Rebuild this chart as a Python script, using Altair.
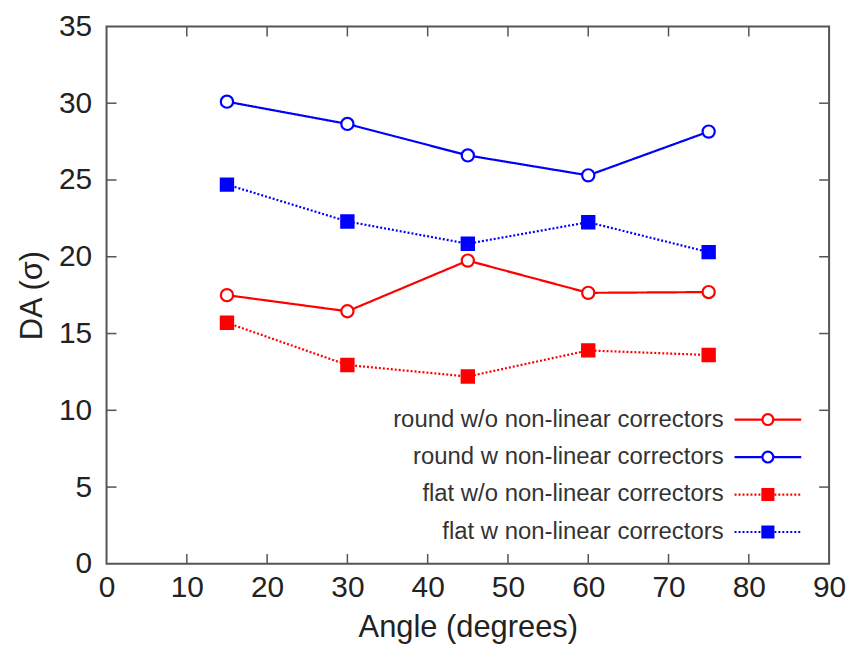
import altair as alt
import pandas as pd

angles = [15, 30, 45, 60, 75]
series_names = [
    "round w/o non-linear correctors",
    "round w non-linear correctors",
    "flat w/o non-linear correctors",
    "flat w non-linear correctors",
]
round_wo = [17.5, 16.45, 19.75, 17.65, 17.7]
round_w = [30.1, 28.65, 26.6, 25.3, 28.15]
flat_wo = [15.7, 12.95, 12.2, 13.9, 13.6]
flat_w = [24.7, 22.3, 20.85, 22.25, 20.3]
series_values = [round_wo, round_w, flat_wo, flat_w]

x_ticks = [0, 10, 20, 30, 40, 50, 60, 70, 80, 90]
y_ticks = [0, 5, 10, 15, 20, 25, 30, 35]

colors = ["#ff0000", "#0000ff", "#ff0000", "#0000ff"]
fills = ["white", "white", "#ff0000", "#0000ff"]
shapes = ["circle", "circle", "square", "square"]
dashes = [[1, 0], [1, 0], [2, 2], [2, 2]]

rows = []
for name, vals in zip(series_names, series_values):
    for a, v in zip(angles, vals):
        rows.append({"angle": a, "DA": v, "series": name, "marker": name})
df = pd.DataFrame(rows)
legend_df = pd.DataFrame({"series": series_names, "marker": series_names})

W, H = 726, 540
FONT = "Liberation Sans"

xscale = alt.Scale(domain=[0, 90], nice=False)
yscale = alt.Scale(domain=[0, 35], nice=False)
color_scale = alt.Scale(domain=series_names, range=colors)
dash_scale = alt.Scale(domain=series_names, range=dashes)
stroke_scale = alt.Scale(domain=series_names, range=colors)
fill_scale = alt.Scale(domain=series_names, range=fills)
shape_scale = alt.Scale(domain=series_names, range=shapes)
size_scale = alt.Scale(domain=series_names, range=[150, 150, 200, 200])
legend_y = alt.Scale(type="point", domain=series_names, range=[395, 508], padding=0)

base = alt.Chart(df)

lines = base.mark_line(strokeWidth=2.2).encode(
    x=alt.X("angle:Q", scale=xscale,
            axis=alt.Axis(values=x_ticks, title="Angle (degrees)", ticks=False, grid=False,
                          labelPadding=9, labelFlush=False, domain=False)),
    y=alt.Y("DA:Q", scale=yscale,
            axis=alt.Axis(values=y_ticks, title="DA (σ)", ticks=False, grid=False,
                          labelPadding=15, labelFlush=False, domain=False)),
    color=alt.Color("series:N", scale=color_scale, legend=None),
    strokeDash=alt.StrokeDash("series:N", scale=dash_scale, legend=None),
    detail="series:N",
)

points = base.mark_point(strokeWidth=2.2, opacity=1).encode(
    x=alt.X("angle:Q", scale=xscale),
    y=alt.Y("DA:Q", scale=yscale, axis=None),
    stroke=alt.Stroke("marker:N", scale=stroke_scale, legend=None),
    fill=alt.Fill("marker:N", scale=fill_scale, legend=None),
    shape=alt.Shape("marker:N", scale=shape_scale, legend=None),
    size=alt.Size("marker:N", scale=size_scale, legend=None),
)

# legend (inside plot, labels to the left of the samples)
leg_base = alt.Chart(legend_df)
leg_text = leg_base.mark_text(align="right", baseline="middle", font=FONT, fontSize=24,
                              color="#333333").encode(
    text="series:N",
    x=alt.value(620),
    y=alt.Y("series:N", scale=legend_y, axis=None),
)
leg_line = leg_base.mark_rule(strokeWidth=2.2).encode(
    x=alt.value(631), x2=alt.value(698),
    y=alt.Y("series:N", scale=legend_y, axis=None),
    color=alt.Color("series:N", scale=color_scale, legend=None),
    strokeDash=alt.StrokeDash("series:N", scale=dash_scale, legend=None),
)
leg_point = leg_base.mark_point(strokeWidth=2.2, opacity=1).encode(
    x=alt.value(664.5),
    y=alt.Y("series:N", scale=legend_y, axis=None),
    stroke=alt.Stroke("marker:N", scale=stroke_scale, legend=None),
    fill=alt.Fill("marker:N", scale=fill_scale, legend=None),
    shape=alt.Shape("marker:N", scale=shape_scale, legend=None),
    size=alt.Size("marker:N", scale=alt.Scale(domain=series_names, range=[120, 120, 150, 150]), legend=None),
)

inner_x = pd.DataFrame({"t": x_ticks[1:-1]})
inner_y = pd.DataFrame({"t": y_ticks[1:-1]})
tick_color = "#555555"

xt_bottom = alt.Chart(inner_x).mark_rule(color=tick_color, strokeWidth=1.5).encode(
    x=alt.X("t:Q", scale=xscale), y=alt.value(H), y2=alt.value(H - 10))
xt_top = alt.Chart(inner_x).mark_rule(color=tick_color, strokeWidth=1.5).encode(
    x=alt.X("t:Q", scale=xscale), y=alt.value(0), y2=alt.value(10))
yt_left = alt.Chart(inner_y).mark_rule(color=tick_color, strokeWidth=1.5).encode(
    y=alt.Y("t:Q", scale=yscale, axis=None), x=alt.value(0), x2=alt.value(10))
yt_right = alt.Chart(inner_y).mark_rule(color=tick_color, strokeWidth=1.5).encode(
    y=alt.Y("t:Q", scale=yscale, axis=None), x=alt.value(W), x2=alt.value(W - 10))

chart = alt.layer(
    xt_bottom, xt_top, yt_left, yt_right, lines, points, leg_line, leg_point, leg_text
).resolve_scale(
    y="independent", size="independent"
).properties(
    width=W,
    height=H,
    autosize=alt.AutoSizeParams(type="none"),
    padding={"left": 99, "top": 17, "right": 20, "bottom": 79},
).configure_view(
    stroke="#555555", strokeWidth=2
).configure_axis(
    labelFont=FONT, labelFontSize=30, labelColor="#222222",
    titleFont=FONT, titleFontSize=31, titleColor="#222222", titleFontWeight="normal",
).configure_axisX(titlePadding=10).configure_axisY(titlePadding=10)

chart.save("out.html", embed_options={"renderer": "svg", "actions": False})
